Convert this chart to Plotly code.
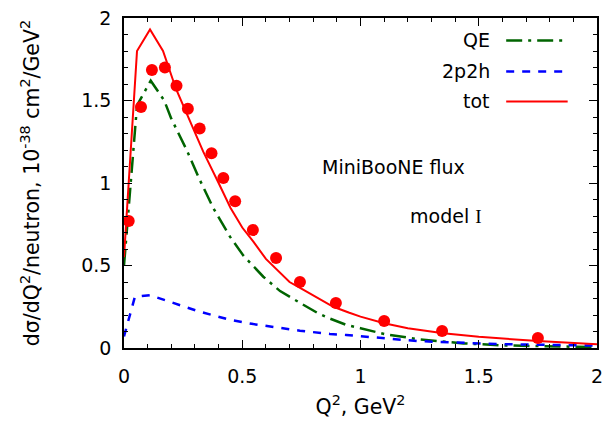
import plotly.graph_objects as go

# ---- data ----
data_q2 = [0.02, 0.072, 0.118, 0.173, 0.222, 0.27, 0.32, 0.37, 0.42, 0.47,
           0.545, 0.643, 0.744, 0.896, 1.10, 1.345, 1.75]
data_xs = [0.77, 1.46, 1.685, 1.70, 1.59, 1.45, 1.33, 1.18, 1.03, 0.89,
           0.715, 0.545, 0.40, 0.273, 0.164, 0.103, 0.06]

qe_q2 = [0.0, 0.055, 0.113, 0.17, 0.2, 0.265, 0.32, 0.378, 0.448, 0.505, 0.589,
         0.66, 0.758, 0.815, 0.871, 0.94, 1.0, 1.1, 1.25, 1.435, 1.6, 1.856, 2.0]
qe_xs = [0.50, 1.47, 1.62, 1.50, 1.39, 1.20, 1.02, 0.847, 0.675, 0.56, 0.432,
         0.345, 0.262, 0.215, 0.178, 0.14, 0.12, 0.085, 0.052, 0.028, 0.016, 0.008, 0.005]

np_q2 = [0.0, 0.046, 0.11, 0.195, 0.32, 0.45, 0.547, 0.744, 0.871, 0.94, 1.24, 1.576, 2.0]
np_xs = [0.07, 0.31, 0.32, 0.28, 0.22, 0.17, 0.145, 0.105, 0.085, 0.079, 0.042, 0.024, 0.014]

tot_q2 = [0.0, 0.055, 0.11, 0.165, 0.22, 0.27, 0.335, 0.4, 0.45, 0.5, 0.547, 0.6,
          0.7, 0.75, 0.8, 0.885, 0.95, 1.0, 1.1, 1.2, 1.35, 1.5, 1.75, 2.0]
tot_xs = [0.55, 1.80, 1.93, 1.80, 1.57, 1.40, 1.19, 1.00, 0.85, 0.73, 0.645, 0.54,
          0.40, 0.36, 0.32, 0.25, 0.215, 0.19, 0.15, 0.12, 0.089, 0.068, 0.042, 0.022]

legend_labels = ["QE", "2p2h", "tot"]
FONT = "DejaVu Sans, sans-serif"
FS = 19
FT = 20.5
GREEN = "#006400"
BLUE = "#0000ff"
RED = "#ff0000"
GREEN_DASH = "16px,6px,3px,6px"
BLUE_DASH = "8px,8px"

fig = go.Figure()
fig.add_trace(go.Scatter(x=qe_q2, y=qe_xs, mode="lines",
                         line=dict(color=GREEN, width=2.5, dash=GREEN_DASH), name="QE"))
fig.add_trace(go.Scatter(x=np_q2, y=np_xs, mode="lines",
                         line=dict(color=BLUE, width=2.5, dash=BLUE_DASH), name="2p2h"))
fig.add_trace(go.Scatter(x=tot_q2, y=tot_xs, mode="lines",
                         line=dict(color=RED, width=2), name="tot"))
fig.add_trace(go.Scatter(x=data_q2, y=data_xs, mode="markers",
                         marker=dict(color=RED, size=12, line=dict(width=0)), name="data"))

# manual legend (text right-aligned, line sample on the right)
styles = [(GREEN, GREEN_DASH, 2.5), (BLUE, BLUE_DASH, 2.5), (RED, "solid", 2)]
leg_y = [0.932, 0.838, 0.747]
for lab, (c, d, w), yy in zip(legend_labels, styles, leg_y):
    fig.add_annotation(x=0.778, y=yy, xref="paper", yref="paper", text=lab,
                       showarrow=False, xanchor="right", yanchor="middle",
                       font=dict(size=FS, color="black", family=FONT))
    fig.add_shape(type="line", xref="paper", yref="paper", x0=0.808, x1=0.938,
                  y0=yy, y1=yy, line=dict(color=c, width=w, dash=d))

fig.add_annotation(x=1.14, y=1.10, text="MiniBooNE flux", showarrow=False,
                   font=dict(size=FS, color="black", family=FONT))
fig.add_annotation(x=1.36, y=0.80, showarrow=False,
                   text="model <span style='font-family:Liberation Serif, serif'>I</span>",
                   font=dict(size=FS, color="black", family=FONT))

axis_common = dict(showgrid=False, zeroline=False, showline=True, linecolor="black",
                   linewidth=1.5, mirror="allticks", ticks="inside", ticklen=8,
                   tickcolor="black", tickwidth=1,
                   tickfont=dict(size=FS, color="black", family=FONT))
fig.update_xaxes(range=[0, 2], dtick=0.5, tick0=0, ticklabelstandoff=10,
                 minor=dict(dtick=0.1, ticks="inside", ticklen=4, tickcolor="black"),
                 title=dict(text="Q<sup>2</sup>, GeV<sup>2</sup>", standoff=14,
                            font=dict(size=FT, color="black", family=FONT)),
                 **axis_common)
fig.update_yaxes(range=[0, 2], dtick=0.5, tick0=0, ticklabelstandoff=7,
                 minor=dict(dtick=0.1, ticks="inside", ticklen=4, tickcolor="black"),
                 title=dict(text="dσ/dQ<sup>2</sup>/neutron, 10<sup>-38</sup> cm<sup>2</sup>/GeV<sup>2</sup>",
                            standoff=36, font=dict(size=FT, color="black", family=FONT)),
                 **axis_common)
fig.update_layout(width=608, height=422, showlegend=False,
                  margin=dict(l=124, r=11, t=18, b=74, autoexpand=False),
                  plot_bgcolor="white", paper_bgcolor="white",
                  font=dict(family=FONT, size=FS, color="black"))
fig.write_html("out.html")
